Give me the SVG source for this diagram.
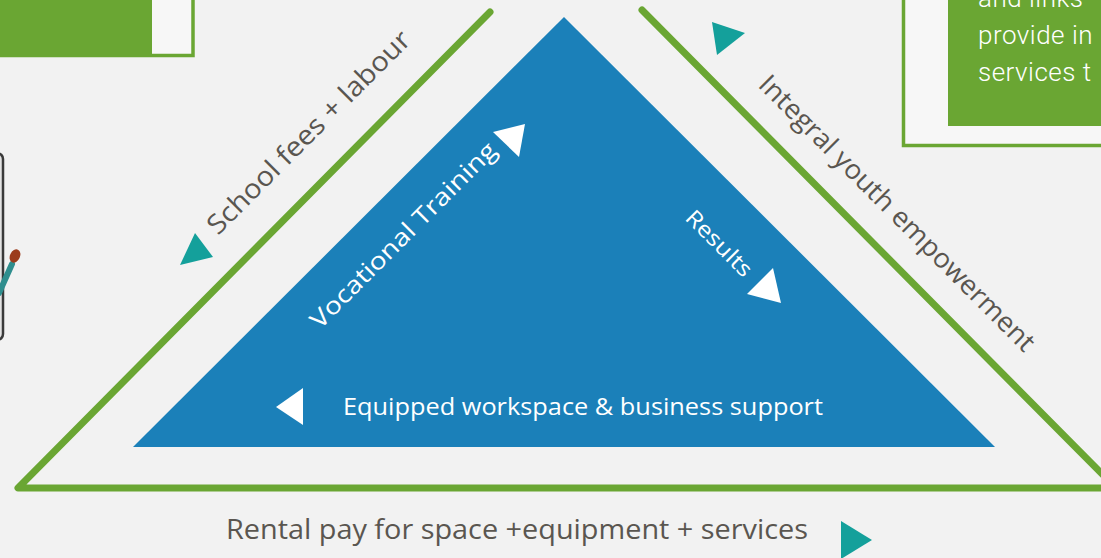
<svg xmlns="http://www.w3.org/2000/svg" width="1101" height="558" viewBox="0 0 1101 558">
  <defs>
    <style>
      .bg { fill: #f2f2f2; }
      .gfill { fill: #6aa633; }
      .gline { fill: none; stroke: #6aa633; stroke-width: 7; stroke-linecap: round; stroke-linejoin: round; }
      .gbox { fill: #f7f7f7; stroke: #6aa633; stroke-width: 3.5; }
      .teal { fill: #14a09b; }
      .warrow { fill: #ffffff; }
      .lbl { font-family: "Open Sans", "Liberation Sans", sans-serif; font-weight: 500; fill: #5a5650; }
      .wlbl { font-family: "Open Sans", "Liberation Sans", sans-serif; font-weight: 500; fill: #ffffff; }
      .boxtxt { font-family: Roboto, "Liberation Sans", sans-serif; font-weight: 300; font-size: 26px; fill: #ffffff; }
    </style>
  </defs>
  <rect class="bg" x="0" y="0" width="1101" height="558"/>

  <g id="box-top-left">
    <rect class="gbox" x="-10" y="-10" width="203" height="65.5"/>
    <rect class="gfill" x="0" y="0" width="152" height="54"/>
  </g>

  <g id="box-top-right">
    <rect class="gbox" x="903.5" y="-10" width="210" height="155.5"/>
    <rect class="gfill" x="948" y="0" width="160" height="126"/>
    <text class="boxtxt" x="978" y="7" letter-spacing="0.5">and links</text>
    <text class="boxtxt" x="978" y="44" letter-spacing="0.5">provide in</text>
    <text class="boxtxt" x="978" y="81" letter-spacing="0.5">services t</text>
  </g>

  <g id="figure-left">
    <rect x="-12" y="153" width="15" height="187" rx="6" fill="#e4e4e4" stroke="#3a3a3a" stroke-width="2.5"/>
    <line x1="-1" y1="293" x2="12" y2="264" stroke="#2f8e8e" stroke-width="6" stroke-linecap="round"/>
    <ellipse cx="15" cy="256" rx="5" ry="7" transform="rotate(25 15 256)" fill="#9b3b1c"/>
  </g>

  <g id="triangle-inner">
    <polygon points="564,17 995,447 133,447" fill="#1b80b9"/>
    <text class="wlbl" font-size="24" textLength="252" lengthAdjust="spacingAndGlyphs" transform="translate(320,330) rotate(-45)">Vocational Training</text>
    <text class="wlbl" font-size="22" textLength="84" lengthAdjust="spacingAndGlyphs" transform="translate(684,219) rotate(45)">Results</text>
    <text class="wlbl" font-size="24" x="343" y="415" textLength="480" lengthAdjust="spacingAndGlyphs">Equipped workspace &amp; business support</text>
  </g>

  <g id="connectors">
    <polyline class="gline" points="490,12 18,488 1116,488 642,10"/>
    <polygon class="teal" points="180,265 195,233 213,257"/>
    <polygon class="teal" points="712,22 745,33 717,55"/>
    <polygon class="teal" points="841,521 872,540 841,559"/>
    <polygon class="warrow" points="493,132 525,124 519,157"/>
    <polygon class="warrow" points="747,294 773,268 781,303"/>
    <polygon class="warrow" points="276,407 303,388 303,425"/>
    <text class="lbl" font-size="27" textLength="275" lengthAdjust="spacingAndGlyphs" transform="translate(218,236) rotate(-45)">School fees + labour</text>
    <text class="lbl" font-size="27" textLength="378" lengthAdjust="spacingAndGlyphs" transform="translate(757,86) rotate(45)">Integral youth empowerment</text>
    <text class="lbl" font-size="28" x="226" y="539" textLength="582" lengthAdjust="spacingAndGlyphs">Rental pay for space +equipment + services</text>
  </g>
</svg>
